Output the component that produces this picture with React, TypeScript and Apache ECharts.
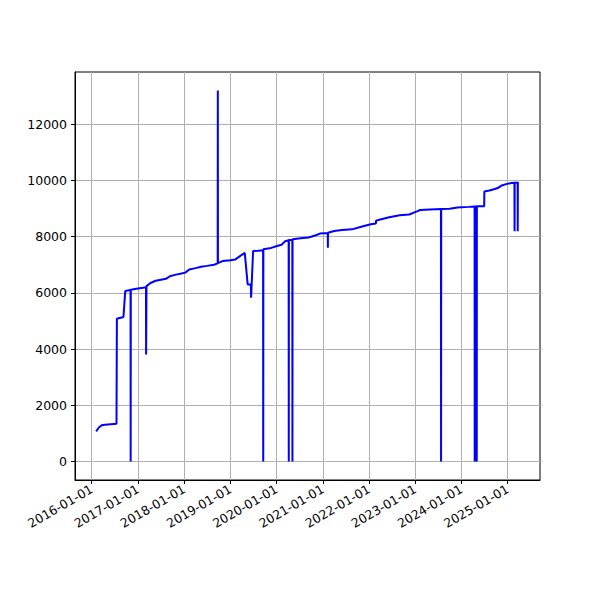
import React, { useEffect, useRef } from "react";
import * as echarts from "echarts";

const dates: string[] = [
  "2016-02-05", "2016-02-25", "2016-03-20", "2016-04-15", "2016-07-15", "2016-07-18",
  "2016-09-08", "2016-09-22", "2016-11-03", "2016-11-04", "2016-11-05", "2016-12-20",
  "2017-02-10", "2017-03-05", "2017-03-06", "2017-03-08", "2017-03-09", "2017-04-10",
  "2017-05-20", "2017-07-01", "2017-08-10", "2017-09-10", "2017-10-20", "2017-12-01",
  "2018-01-10", "2018-02-10", "2018-04-01", "2018-05-15", "2018-07-01", "2018-08-25",
  "2018-09-23", "2018-09-24", "2018-09-25", "2018-11-01", "2019-01-01", "2019-02-10",
  "2019-04-01", "2019-04-25", "2019-05-18", "2019-06-12", "2019-06-14", "2019-06-30",
  "2019-08-10", "2019-09-17", "2019-09-18", "2019-09-19", "2019-11-20", "2019-12-30",
  "2020-02-10", "2020-03-10", "2020-04-06", "2020-04-07", "2020-04-08", "2020-05-05",
  "2020-05-06", "2020-05-07", "2020-07-10", "2020-09-10", "2020-11-01", "2020-12-10",
  "2021-02-09", "2021-02-10", "2021-02-11", "2021-04-01", "2021-06-01", "2021-08-20",
  "2021-11-01", "2022-01-15", "2022-02-25", "2022-02-26", "2022-04-01", "2022-06-10",
  "2022-09-01", "2022-11-15", "2023-01-15", "2023-02-10", "2023-05-01", "2023-07-24",
  "2023-07-25", "2023-07-26", "2023-10-01", "2023-12-01", "2024-03-01", "2024-04-15",
  "2024-04-16", "2024-04-17", "2024-05-01", "2024-05-02", "2024-05-03", "2024-06-30",
  "2024-07-01", "2024-08-10", "2024-09-15", "2024-10-15", "2024-11-10", "2024-12-20",
  "2025-02-01", "2025-02-24", "2025-02-25", "2025-02-26", "2025-03-21", "2025-03-22",
  "2025-03-23", "2025-03-31",
];

const values: number[] = [
  1070, 1200, 1290, 1310, 1340, 5080,
  5140, 6063, 6100, 0, 6110, 6150,
  6180, 6200, 3810, 3810, 6240, 6350,
  6430, 6470, 6500, 6590, 6640, 6680,
  6720, 6830, 6880, 6930, 6960, 7000,
  7050, 13200, 7060, 7130, 7160, 7190,
  7350, 7420, 6300, 6300, 5830, 7490,
  7500, 7520, 0, 7550, 7600, 7660,
  7710, 7840, 7870, 0, 7880, 7890,
  0, 7910, 7940, 7970, 8040, 8110,
  8130, 7610, 8140, 8200, 8240, 8260,
  8350, 8440, 8470, 8570, 8610, 8690,
  8760, 8790, 8900, 8950, 8970, 8980,
  0, 8980, 8990, 9040, 9060, 9070,
  0, 9070, 9070, 0, 9080, 9080,
  9610, 9640, 9690, 9730, 9810, 9870,
  9910, 9920, 8190, 9920, 9920, 8190,
  9920, 9920,
];

const xTickLabels: string[] = [
  "2016-01-01", "2017-01-01", "2018-01-01", "2019-01-01", "2020-01-01",
  "2021-01-01", "2022-01-01", "2023-01-01", "2024-01-01", "2025-01-01",
];

const yTicks: number[] = [0, 2000, 4000, 6000, 8000, 10000, 12000];

const toTs = (s: string) => {
  const [y, m, d] = s.split("-").map(Number);
  return Date.UTC(y, m - 1, d);
};

const fmt = (v: number) => {
  const d = new Date(v);
  const p = (n: number) => String(n).padStart(2, "0");
  return `${d.getUTCFullYear()}-${p(d.getUTCMonth() + 1)}-${p(d.getUTCDate())}`;
};

export default function App() {
  const ref = useRef<HTMLDivElement>(null);
  useEffect(() => {
    if (!ref.current) return;
    const chart = echarts.init(ref.current, undefined, { renderer: "svg" });
    const ts = dates.map(toTs);
    const t0 = Math.min(...ts);
    const t1 = Math.max(...ts);
    const xPad = (t1 - t0) * 0.05;
    const vMin = Math.min(...values);
    const vMax = Math.max(...values);
    const yPad = (vMax - vMin) * 0.05;
    const xTicks = xTickLabels.map(toTs);
    const font = "DejaVu Sans";
    chart.setOption({
      animation: false,
      grid: {
        left: 75,
        right: 60,
        top: 72,
        bottom: 120,
        show: true,
        borderColor: "#000",
        borderWidth: 1,
        backgroundColor: "transparent",
      },
      xAxis: {
        type: "value",
        min: t0 - xPad,
        max: t1 + xPad,
        axisLine: { show: true, onZero: false, lineStyle: { color: "#000", width: 1 } },
        axisTick: {
          show: true,
          length: 4,
          inside: false,
          customValues: xTicks,
          lineStyle: { color: "#000", width: 1 },
        },
        axisLabel: {
          customValues: xTicks,
          formatter: (v: number) => fmt(v),
          rotate: 30,
          color: "#000",
          fontSize: 12.5,
          fontFamily: font,
          margin: 8,
        },
        splitLine: { show: true, lineStyle: { color: "#b0b0b0", width: 1 } },
      },
      yAxis: {
        type: "value",
        min: vMin - yPad,
        max: vMax + yPad,
        axisLine: { show: true, onZero: false, lineStyle: { color: "#000", width: 1 } },
        axisTick: {
          show: true,
          length: 4,
          inside: false,
          customValues: yTicks,
          lineStyle: { color: "#000", width: 1 },
        },
        axisLabel: {
          customValues: yTicks,
          formatter: (v: number) => String(v),
          color: "#000",
          fontSize: 12.5,
          fontFamily: font,
          margin: 8,
        },
        splitLine: { show: true, lineStyle: { color: "#b0b0b0", width: 1 } },
      },
      series: [
        {
          type: "line",
          data: ts.map((t, i) => [t, values[i]]),
          showSymbol: false,
          symbol: "none",
          lineStyle: { color: "#0000ff", width: 2 },
          itemStyle: { color: "#0000ff" },
        },
      ],
    });
    return () => chart.dispose();
  }, []);
  return <div ref={ref} style={{ width: 600, height: 600, margin: -8 }} />;
}
